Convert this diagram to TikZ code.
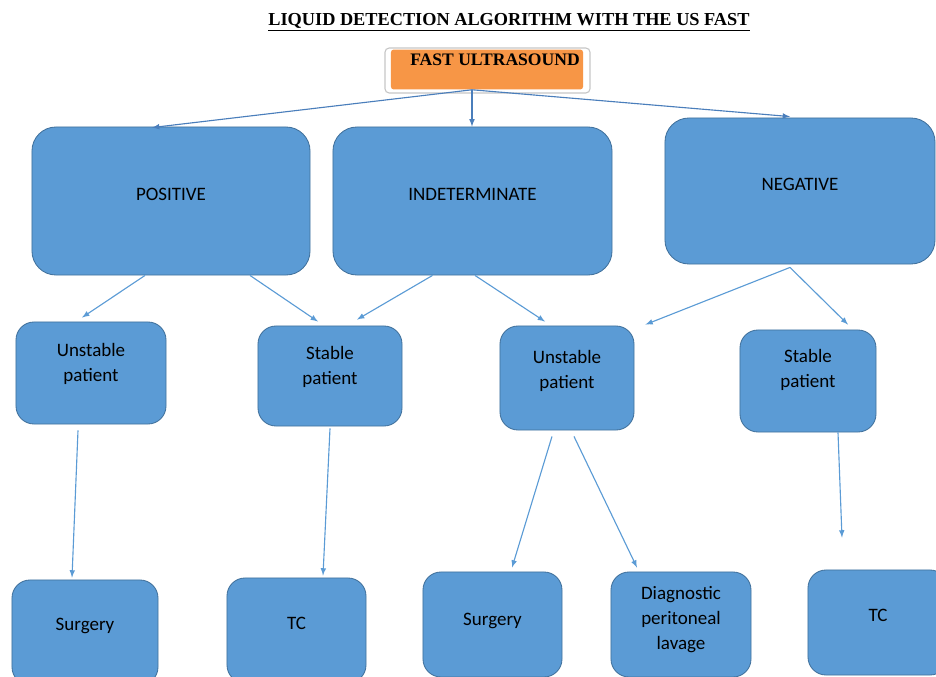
\documentclass[tikz,border=0pt]{standalone}
\usepackage{fontspec}
\newfontfamily\boxfont{Carlito}
\newfontfamily\titlefont{Liberation Serif}
\usetikzlibrary{arrows,calc}
\definecolor{boxblue}{HTML}{5B9BD5}
\definecolor{boxedge}{HTML}{41719C}
\definecolor{ultraorange}{HTML}{F79646}
\definecolor{linkblue}{HTML}{5B9BD5}
\definecolor{topblue}{HTML}{4A7EBB}

\begin{document}
\begin{tikzpicture}[x=0.025cm, y=-0.025cm,
   box/.style={rectangle, rounded corners=0.6cm, draw=boxedge, line width=0.6pt, fill=boxblue, align=center, font=\boxfont\fontsize{13.5}{18}\selectfont},
   small/.style={box, rounded corners=0.45cm},
   lift/.style={text depth=#1},
   link/.style={-latex, draw=linkblue, line width=0.8pt},
   toplink/.style={-latex, draw=topblue, line width=0.8pt}]
\useasboundingbox (0,0) rectangle (936,677);

\node[font=\titlefont\bfseries\fontsize{13}{15}\selectfont] (title) at (509,22) {\underline{LIQUID DETECTION ALGORITHM WITH THE US FAST}};

\node[rectangle, rounded corners=3pt, fill=white, draw=black!22, line width=0.8pt, minimum width=5.125cm, minimum height=1.125cm] (frame) at (487.5,70.5) {};
\node[rectangle, rounded corners=2pt, fill=ultraorange, inner xsep=0pt, minimum width=4.8cm, minimum height=0.875cm, lift=13.5pt, font=\titlefont\bfseries\fontsize{12.5}{15}\selectfont] (ultra) at (487,69.5) {\hspace*{0.4cm}FAST ULTRASOUND};
\coordinate (fork) at ($(ultra.south)+(-15,0)$);

\node[box, minimum width=6.95cm, minimum height=3.7cm, lift=10pt] (pos) at (171,201) {POSITIVE};
\node[box, minimum width=6.975cm, minimum height=3.7cm, lift=10pt] (ind) at (472.5,201) {INDETERMINATE};
\node[box, minimum width=6.75cm, minimum height=3.65cm, lift=10pt] (neg) at (800,191) {NEGATIVE};

\node[small, minimum width=3.75cm, minimum height=2.55cm, lift=15.5pt] (unst1) at (91,373) {Unstable\\patient};
\node[small, minimum width=3.6cm, minimum height=2.5cm, lift=15.5pt] (stab1) at (330,376) {Stable\\patient};
\node[small, minimum width=3.35cm, minimum height=2.6cm, lift=12.6pt] (unst2) at (567,378) {Unstable\\patient};
\node[small, minimum width=3.4cm, minimum height=2.55cm, lift=18.3pt] (stab2) at (808,381) {Stable\\patient};

\node[small, minimum width=3.65cm, minimum height=2.625cm, lift=11.9pt] (surg1) at (85,632.5) {Surgery};
\node[small, minimum width=3.475cm, minimum height=2.625cm, lift=10.6pt] (tc1) at (296.5,630.5) {TC};
\node[small, minimum width=3.475cm, minimum height=2.625cm, lift=7.7pt] (surg2) at (492.5,624.5) {Surgery};
\node[small, minimum width=3.5cm, minimum height=2.625cm, lift=9.1pt] (dpl) at (681,624.5) {Diagnostic\\peritoneal\\lavage};
\node[small, minimum width=3.5cm, minimum height=2.625cm, lift=10.6pt] (tc2) at (878,622.5) {TC};

\path
	(fork) edge[toplink] ($(pos.north)+(-19,1)$)
	(fork) edge[toplink] ($(ind.north)+(-0.5,0)$)
	(fork) edge[toplink] ($(neg.north)+(-10,-1)$)
	($(pos.south)+(-26,0)$) edge[link] ($(unst1.north)+(-9,-4)$)
	($(pos.south)+(79,0)$) edge[link] ($(stab1.north)+(-12,-4)$)
	($(ind.south)+(-40,0)$) edge[link] ($(stab1.north)+(27,-6)$)
	($(ind.south)+(2.5,0)$) edge[link] ($(unst2.north)+(-22,-4)$)
	($(neg.south)+(-10,3)$) edge[link] ($(unst2.north east)+(11,-1)$)
	($(neg.south)+(-10,3)$) edge[link] ($(stab2.north)+(40,-5)$)
	($(unst1.south)+(-13,6)$) edge[link] ($(surg1.north)+(-13,-2)$)
	($(stab1.south)+(0,2)$) edge[link] ($(tc1.north)+(26.5,-2)$)
	($(unst2.south)+(-15,6)$) edge[link] ($(surg2.north)+(19.5,-4)$)
	($(unst2.south)+(7,6)$) edge[link] ($(dpl.north)+(-44,-4)$)
	($(stab2.south)+(30,0)$) edge[link] ($(tc2.north)+(-36,-32)$)
;

\end{tikzpicture}
\end{document}
